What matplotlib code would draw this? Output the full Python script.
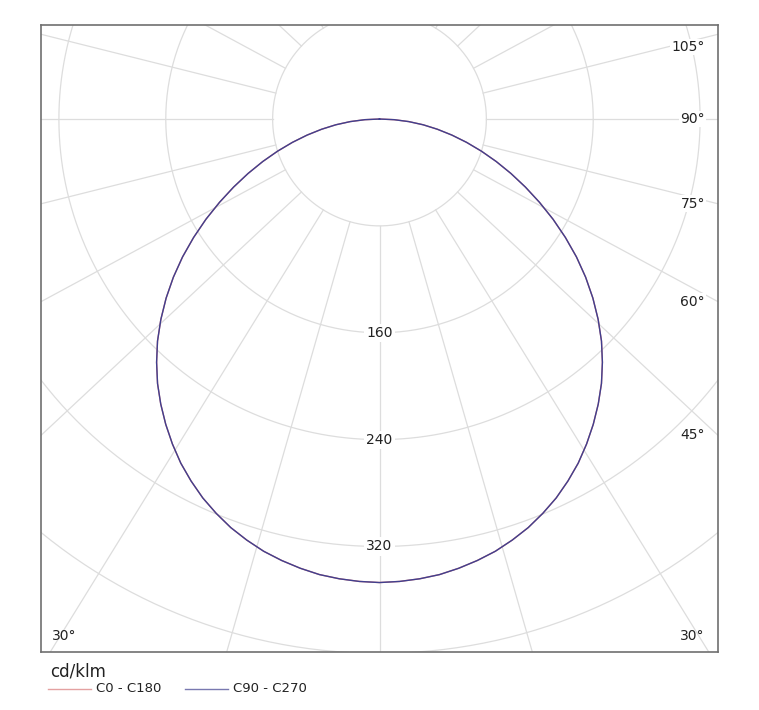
import numpy as np
import matplotlib.pyplot as plt
from matplotlib.lines import Line2D

# gamma angle (deg) and luminous intensity (cd/klm)
gamma = [0, 2.5, 5, 7.5, 10, 12.5, 15, 17.5, 20, 22.5, 25, 27.5, 30, 32.5, 35, 37.5,
         40, 42.5, 45, 47.5, 50, 52.5, 55, 57.5, 60, 62.5, 65, 67.5, 70, 72.5, 75,
         77.5, 80, 82.5, 85, 87.5, 90]
c0_c180 = [347, 346.5, 345.5, 344, 341.5, 338.5, 335, 330.5, 325.5, 319.5, 313, 305.5,
           297.5, 288.5, 279, 269, 258.5, 247, 235, 222, 208.5, 194.5, 180, 165, 150,
           135, 120.5, 106.5, 93, 80, 67.5, 55.5, 44, 33, 22, 11, 0]
c90_c270 = [347, 346.5, 345.5, 344, 341.5, 338.5, 335, 330.5, 325.5, 319.5, 313, 305.5,
            297.5, 288.5, 279, 269, 258.5, 247, 235, 222, 208.5, 194.5, 180, 165, 150,
            135, 120.5, 106.5, 93, 80, 67.5, 55.5, 44, 33, 22, 11, 0]

ring_values = [80, 160, 240, 320, 400, 480]
ring_labels = [160, 240, 320]
angle_labels = [45, 60, 75, 90, 105]

series_names = ['C0 - C180', 'C90 - C270']
series_colors = ['#d97a7a', '#40408f']
unit = 'cd/klm'

grid_col = '#dddddd'
k = 1.07  # the spokes of the original are a bit wider than the rings

fig = plt.figure(figsize=(7.59, 7.10), dpi=100)
ax = fig.add_axes([41 / 759, 58 / 710, 677 / 759, 627 / 710])
xmax = 253.4
ax.set_xlim(-xmax, xmax)
ax.set_ylim(-399, 70.4)
ax.set_xticks([])
ax.set_yticks([])
for s in ax.spines.values():
    s.set_color('#707070')
    s.set_linewidth(1.2)

# rings
t = np.linspace(0, 2 * np.pi, 500)
for r in ring_values:
    ax.plot(r * np.sin(t), r * np.cos(t), color=grid_col, lw=0.9, zorder=1)

# spokes every 15 deg, starting at the first ring
for a in range(0, 360, 15):
    th = np.radians(a)
    d = np.array([k * np.sin(th), -np.cos(th)])
    d = d / np.hypot(*d)
    ax.plot([ring_values[0] * d[0], 1000 * d[0]], [ring_values[0] * d[1], 1000 * d[1]],
            color=grid_col, lw=0.9, zorder=1)

# curves (both half planes)
g = np.radians(np.array(gamma, dtype=float))
ang = np.concatenate([-g[::-1], g[1:]])
for vals, col in zip([c0_c180, c90_c270], series_colors):
    v = np.array(vals, dtype=float)
    rr = np.concatenate([v[::-1], v[1:]])
    ax.plot(rr * np.sin(ang), -rr * np.cos(ang), color=col, lw=1.0, zorder=3,
            solid_joinstyle='round')

# value labels on the vertical axis
for v in ring_labels:
    ax.text(0, -v, str(v), ha='center', va='center', fontsize=10, color='#222222', zorder=4,
            bbox=dict(facecolor='white', edgecolor='none', pad=1.5))

# angle labels on the right edge
xl = 243.6
for a in angle_labels:
    th = np.radians(a)
    y = 0.0 if a == 90 else -xmax / (k * np.tan(th))
    y = min(max(y, -387), 54)
    ax.text(xl, y, f'{a}°', ha='right', va='center', fontsize=10, color='#222222', zorder=4,
            bbox=dict(facecolor='white', edgecolor='none', pad=1.0))
ax.text(xl, -387, '30°', ha='right', va='center', fontsize=10, color='#222222', zorder=4)
ax.text(-245.5, -387, '30°', ha='left', va='center', fontsize=10, color='#222222', zorder=4)

# legend
fig.text(50 / 759, 1 - 671 / 710, unit, fontsize=12, va='center', color='#222222')
ly = 1 - 689 / 710
for name, col, x0 in zip(series_names, series_colors, [48, 185]):
    fig.add_artist(Line2D([x0 / 759, (x0 + 43) / 759], [ly, ly], transform=fig.transFigure,
                          color=col, lw=1.0, alpha=0.7))
    fig.text((x0 + 48) / 759, ly, name, fontsize=9.5, va='center', color='#222222')

fig.savefig('out.png', dpi=100)
